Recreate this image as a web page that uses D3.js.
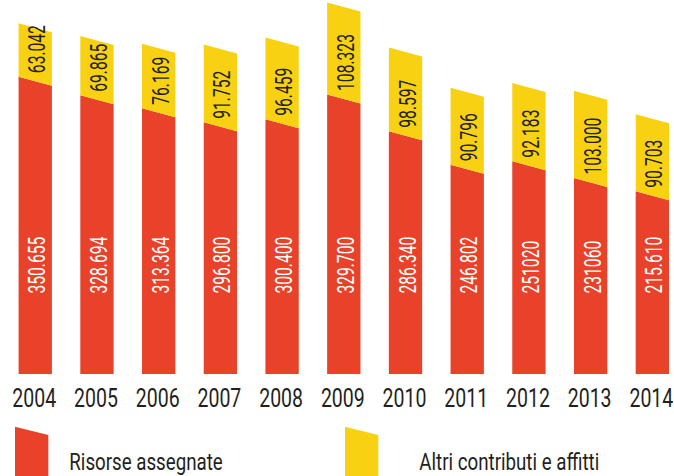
<!DOCTYPE html>
<html>
<head>
<meta charset="utf-8">
<script src="https://cdn.jsdelivr.net/npm/d3@7"></script>
<style>
  body { margin: 0; background: #fff; }
  svg { display: block; }
  text { font-family: Roboto, "Liberation Sans", sans-serif; }
</style>
</head>
<body>
<svg id="chart" width="674" height="476"></svg>
<script>
// Data
const years = ['2004', '2005', '2006', '2007', '2008', '2009', '2010', '2011', '2012', '2013', '2014'];
const risorse = [350.655, 328.694, 313.364, 296.800, 300.400, 329.700, 286.340, 246.802, 251.020, 231.060, 215.610];
const altri = [63.042, 69.865, 76.169, 91.752, 96.459, 108.323, 98.597, 90.796, 92.183, 103.000, 90.703];
const risorseLabels = ['350.655', '328.694', '313.364', '296.800', '300.400', '329.700', '286.340', '246.802', '251020', '231060', '215.610'];
const altriLabels = ['63.042', '69.865', '76.169', '91.752', '96.459', '108.323', '98.597', '90.796', '92.183', '103.000', '90.703'];
const seriesNames = ['Risorse assegnate', 'Altri contributi e affitti'];

const RED = '#e8422a';
const YELLOW = '#f8d212';
const DARK = '#231f20';
const BASE = 374;
const SLANT = 9;

const svg = d3.select('#chart');

// Scales
const xScale = d3.scaleBand()
  .domain(years)
  .range([4.4, 683.2])
  .paddingInner(0.46)
  .paddingOuter(0.23);

const yScale = d3.scaleLinear()
  .domain([0, 440])
  .range([BASE, BASE - 440 * 0.848]);

const bw = xScale.bandwidth();

const rows = years.map((y, i) => ({ year: y, r: risorse[i], a: altri[i], rl: risorseLabels[i], al: altriLabels[i] }));

// slanted segment: left edge at value, right edge lower by SLANT
function segment(x0, v0, v1, flatBottom) {
  const x1 = x0 + bw;
  const yb0 = yScale(v0), yb1 = flatBottom ? yScale(v0) : yScale(v0) + SLANT;
  const yt0 = yScale(v1), yt1 = yScale(v1) + SLANT;
  return `M${x0},${yb0}L${x0},${yt0}L${x1},${yt1}L${x1},${yb1}Z`;
}

// Bars
const bars = svg.append('g').attr('id', 'bars');
bars.selectAll('.red')
  .data(rows)
  .join('path')
  .attr('class', 'red')
  .attr('fill', RED)
  .attr('d', d => segment(xScale(d.year), 0, d.r, true));

bars.selectAll('.yellow')
  .data(rows)
  .join('path')
  .attr('class', 'yellow')
  .attr('fill', YELLOW)
  .attr('d', d => segment(xScale(d.year), d.r, d.r + d.a, false));

// Value labels (rotated, condensed)
const labels = svg.append('g').attr('id', 'labels');
labels.selectAll('.rl')
  .data(rows)
  .join('text')
  .attr('class', 'rl')
  .attr('transform', d => `translate(${xScale(d.year) + bw / 2 + 10}, 293.5) rotate(-90) scale(0.68,1)`)
  .attr('fill', '#fff')
  .attr('font-size', 23)
  .text(d => d.rl);

labels.selectAll('.al')
  .data(rows)
  .join('text')
  .attr('class', 'al')
  .attr('transform', d => `translate(${xScale(d.year) + bw / 2 + 10}, ${yScale(d.r) - 3.5}) rotate(-90) scale(0.68,1)`)
  .attr('fill', DARK)
  .attr('font-size', 23)
  .text(d => d.al);

// Year axis labels
svg.append('g').attr('id', 'x-axis')
  .selectAll('text')
  .data(years)
  .join('text')
  .attr('transform', d => `translate(${xScale(d) + bw / 2 - 1}, 406.5) scale(0.75,1)`)
  .attr('text-anchor', 'middle')
  .attr('fill', DARK)
  .attr('font-size', 26)
  .text(d => d);

// Legend
const legend = svg.append('g').attr('id', 'legend');
const legendX = [15, 345];
const legendTextX = [69.3, 419.3];
const legendColors = [RED, YELLOW];
legend.selectAll('path')
  .data(seriesNames)
  .join('path')
  .attr('fill', (d, i) => legendColors[i])
  .attr('d', (d, i) => `M${legendX[i]},426.7L${legendX[i] + bw},435L${legendX[i] + bw},480L${legendX[i]},480Z`);

legend.selectAll('text')
  .data(seriesNames)
  .join('text')
  .attr('transform', (d, i) => `translate(${legendTextX[i]}, 469.5) scale(0.78,1)`)
  .attr('fill', DARK)
  .attr('font-size', 24)
  .text(d => d);
</script>
</body>
</html>
